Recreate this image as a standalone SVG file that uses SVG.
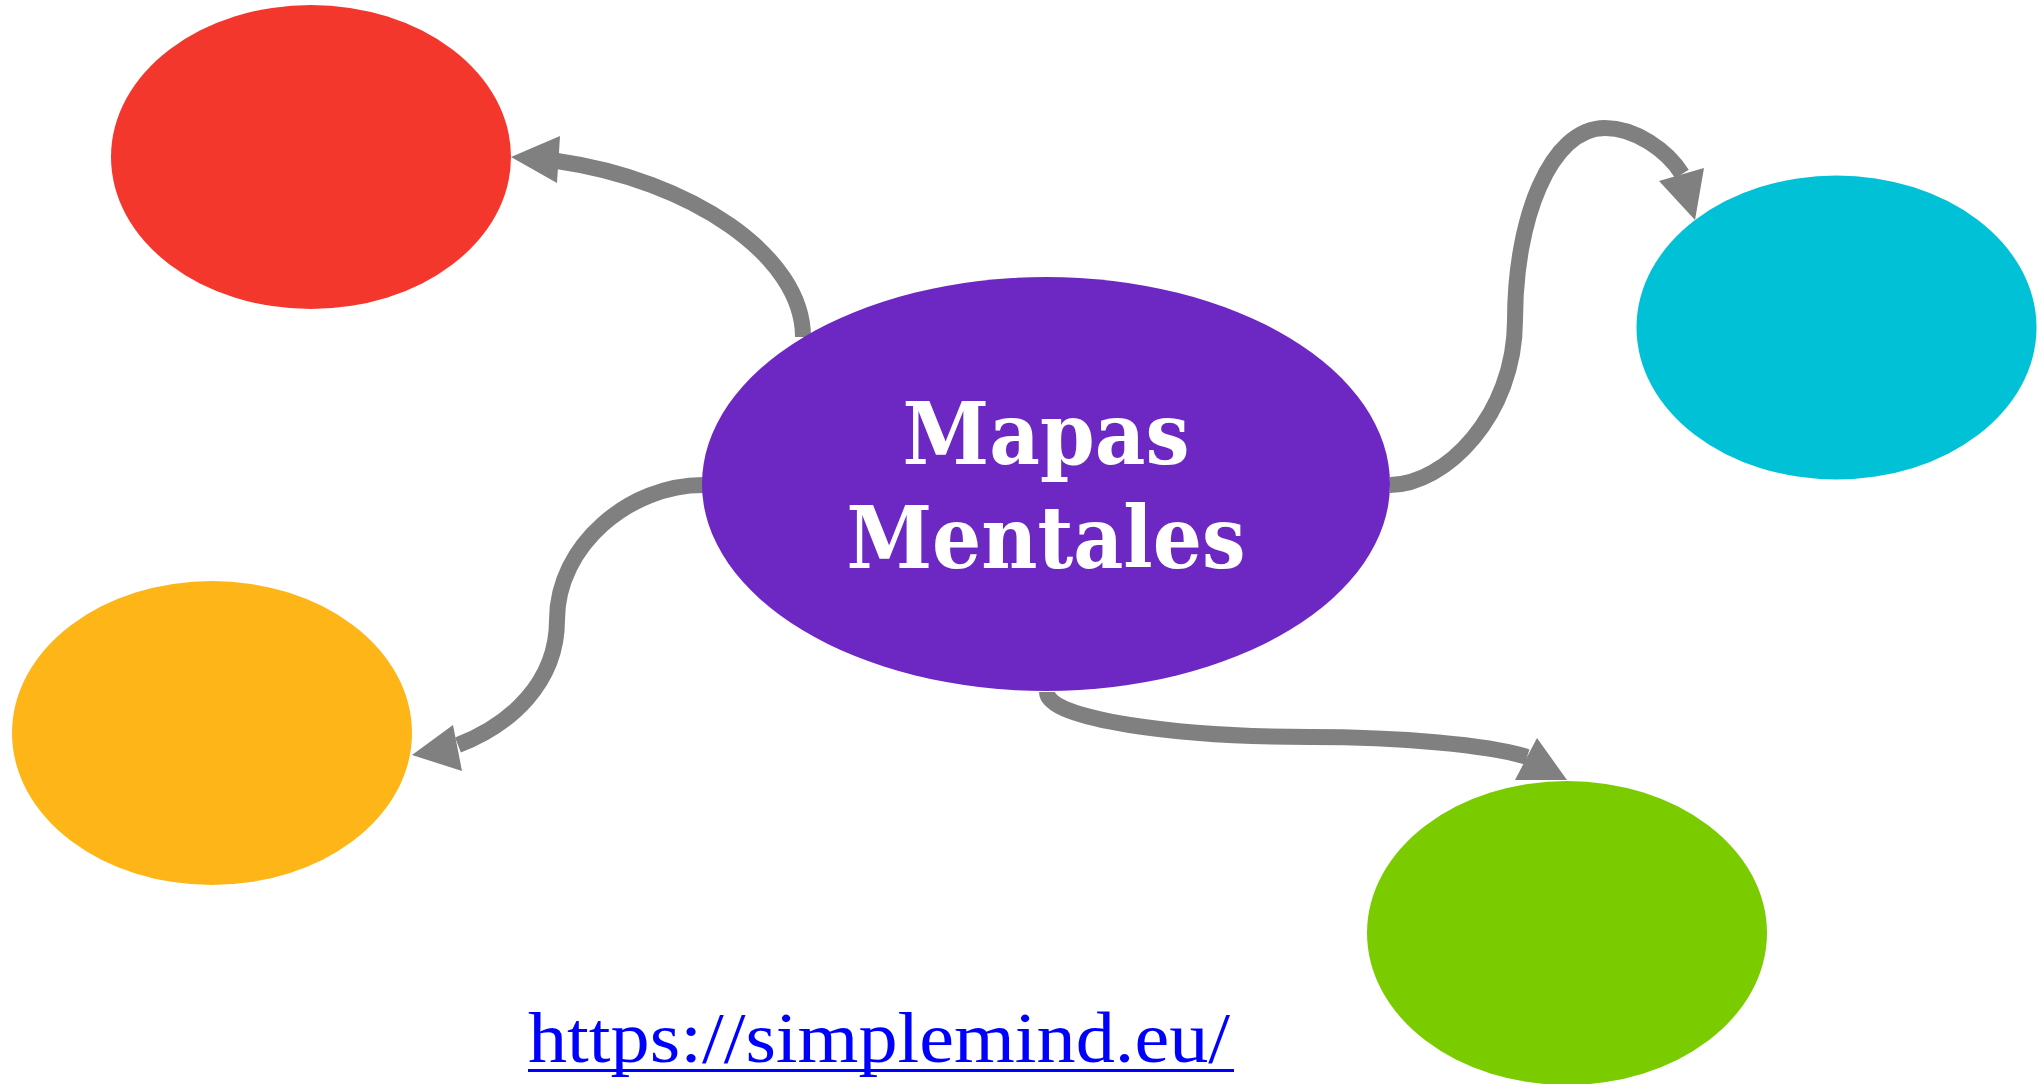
<svg xmlns="http://www.w3.org/2000/svg" width="2038" height="1084" viewBox="0 0 2038 1084">
<style>
.conn{fill:none;stroke:#808080;stroke-width:16;stroke-linecap:butt}
.head{fill:#808080}
.title{font-family:"DejaVu Serif","Liberation Serif",serif;font-weight:bold;fill:#ffffff;font-size:86px}
.url{font-family:"Liberation Serif","Times New Roman",serif;fill:#0000ff;font-size:72px}
</style>
<rect width="2038" height="1084" fill="#ffffff"/>
<g id="connectors">
<path class="conn" d="M 803 337 C 803 255 690 180 557 161"/>
<polygon class="head" points="511,157 560,136 557,183"/>
<path class="conn" d="M 1390 485 C 1445 485 1515 415 1515 320 C 1515 220 1550 128 1605 128 C 1635 128 1667 150 1682 174"/>
<polygon class="head" points="1695,220 1659,181 1704,168"/>
<path class="conn" d="M 703 485 C 630 485 557 545 557 620 C 557 683 510 725 458 745"/>
<polygon class="head" points="412,755 453,725 462,771"/>
<path class="conn" d="M 1047 692 C 1047 720 1180 737 1310 737 C 1400 737 1490 745 1527 757"/>
<polygon class="head" points="1567,780 1537,738 1515,780"/>
</g>
<g id="node-center">
<ellipse cx="1046" cy="484" rx="344" ry="207" fill="#6d28c4"/>
<text class="title" x="1046" y="464" text-anchor="middle" textLength="287" lengthAdjust="spacingAndGlyphs">Mapas</text>
<text class="title" x="1046" y="568" text-anchor="middle" textLength="399" lengthAdjust="spacingAndGlyphs">Mentales</text>
</g>
<g id="node-red"><ellipse cx="311" cy="157" rx="200" ry="152" fill="#f3372c"/></g>
<g id="node-cyan"><ellipse cx="1836.5" cy="327.5" rx="200" ry="152" fill="#00c1d6"/></g>
<g id="node-yellow"><ellipse cx="212" cy="733" rx="200" ry="152" fill="#fdb518"/></g>
<g id="node-green"><ellipse cx="1567" cy="933" rx="200" ry="152" fill="#7acc00"/></g>
<g id="link">
<text class="url" x="528" y="1062" textLength="702" lengthAdjust="spacingAndGlyphs">https://simplemind.eu/</text>
<rect x="528" y="1069" width="706" height="3" fill="#0000ff"/>
</g>
</svg>
